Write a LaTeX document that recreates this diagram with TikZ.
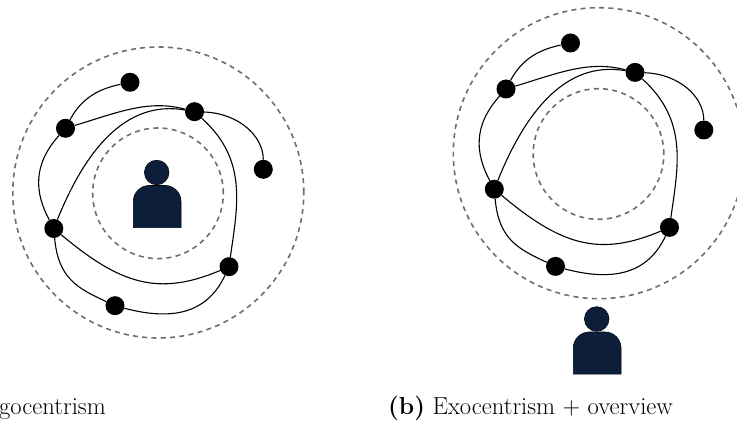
\documentclass[tikz,border=0pt]{standalone}
\definecolor{orbitgray}{HTML}{6E6E6E}
\definecolor{personblue}{HTML}{0C1E3A}
\tikzset{
  dot/.style={circle,fill=black,inner sep=0pt,minimum size=19pt},
  link/.style={line width=1.1pt,black},
  orbit/.style={draw=orbitgray,line width=1.6pt,dash pattern=on 5pt off 4.3pt},
  person/.style={fill=personblue,draw=black!70!personblue,line width=0.6pt},
  caption/.style={font=\fontsize{24.6}{29}\selectfont,inner sep=0pt}
}
\newcommand\netgraph{%
  \draw[orbit] (158.3,232.5) circle[radius=145.5];
  \draw[orbit] (158,231.7) circle[radius=65.3];
  \node[dot] (A) at (130,342.7) {};
  \node[dot] (B) at (65.5,296.7) {};
  \node[dot] (C) at (194.5,313.3) {};
  \node[dot] (D) at (263.3,255.7) {};
  \node[dot] (E) at (53.8,196.5) {};
  \node[dot] (F) at (229,158.3) {};
  \node[dot] (G) at (115,119.3) {};
  \draw[link] (B) to[out=62,in=192] (A);
  \draw[link] (B) to[out=17,in=165] (C);
  \draw[link] (C) to[out=-2,in=90,looseness=1.05] (D);
  \draw[link] (B) to[out=228,in=118,looseness=1.1] (E);
  \draw[link] (E) to[out=68,in=170,looseness=1.05] (C);
  \draw[link] (C) to[out=-42,in=82,looseness=1.05] (F);
  \draw[link] (E) to[out=-40,in=203,looseness=1.15] (F);
  \draw[link] (E) to[out=-85,in=155,looseness=1.15] (G);
  \draw[link] (G) to[out=-15,in=245,looseness=1.15] (F);
}
\newcommand\personicon{%
  \fill[person] (156.7,252.5) circle[radius=12.3];
  \fill[person] (133.3,197.3) [rounded corners=16pt] -- (133.3,239.5) -- (181,239.5) [sharp corners] -- (181,197.3) -- cycle;
}
\begin{document}
\begin{tikzpicture}[x=1pt,y=1pt]
  \useasboundingbox (0,0) rectangle (737,425);
  \begin{scope}[name prefix=l-]
    \netgraph
    \personicon
  \end{scope}
  \begin{scope}[name prefix=r-,shift={(440.5,39.3)}]
    \netgraph
  \end{scope}
  \begin{scope}[shift={(440,-146.5)}]
    \personicon
  \end{scope}
  \node[caption,anchor=base west] (capa) at (-1,10) {gocentrism};
  \node[caption,anchor=base west] (capb) at (388,10) {\textbf{(b)} Exocentrism + overview};
\end{tikzpicture}
\end{document}
